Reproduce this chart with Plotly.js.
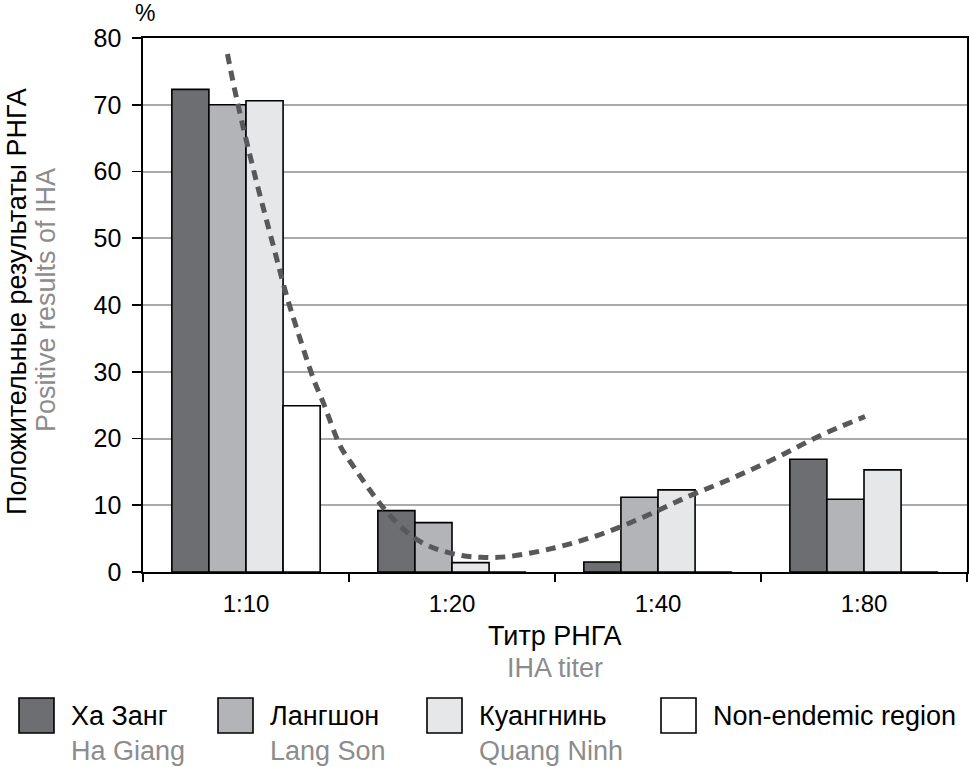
<!DOCTYPE html>
<html>
<head>
<meta charset="utf-8">
<script src="https://cdn.plot.ly/plotly-3.0.1.min.js"></script>
<style>html,body{margin:0;padding:0;background:#fff;}#chart{width:969px;height:767px;}</style>
</head>
<body>
<div id="chart"></div>
<script>
// ---- data ----
const categories = ["1:10", "1:20", "1:40", "1:80"];
const haGiang   = [72.3, 9.2, 1.5, 16.9];
const langSon   = [70.0, 7.4, 11.2, 10.9];
const quangNinh = [70.6, 1.4, 12.3, 15.3];
const nonEndemic = [24.9, 0, 0, 0];
const seriesRu = ["Ха Занг", "Лангшон", "Куангнинь", "Non-endemic region"];
const seriesEn = ["Ha Giang", "Lang Son", "Quang Ninh", ""];
// trend line (x in category units, 0 = 1:10)
const trendX = [-0.090, -0.044, 0.045, 0.134, 0.199, 0.264, 0.329, 0.376, 0.459, 0.522, 0.589, 0.662, 0.751, 0.832, 0.929, 1.043, 1.140, 1.270, 1.495, 1.708, 1.935, 2.146, 2.356, 2.567, 2.778, 3.005];
const trendY = [77.6, 70.7, 59.2, 48.7, 41.2, 34.8, 28.8, 25.3, 18.8, 15.8, 12.8, 9.8, 6.8, 4.8, 3.4, 2.5, 2.2, 2.3, 3.6, 5.5, 8.3, 11.3, 14.0, 17.0, 20.3, 23.3];
const yTicks = [0, 10, 20, 30, 40, 50, 60, 70, 80];

// ---- styling ----
const colors = ["#6d6e71", "#b3b4b7", "#e6e7e9", "#ffffff"];
const W = 969, H = 767, L = 143, R = 2, T = 38, B = 195;
const pw = W - L - R, ph = H - T - B;
const px = x => (x - L) / pw;           // pixel -> paper x
const py = y => (H - B - y) / ph;       // pixel -> paper y
const FONT = "Liberation Sans, Arial, sans-serif";
const GRAY = "#8c8c8c";

const allSeries = [haGiang, langSon, quangNinh, nonEndemic];
const traces = allSeries.map((vals, i) => ({
  type: "bar",
  x: categories,
  y: vals,
  name: seriesRu[i],
  marker: {color: colors[i], line: {color: "#000", width: 1.6}},
  showlegend: false,
  hoverinfo: "x+y+name"
}));
traces.push({
  type: "scatter",
  mode: "lines",
  x: trendX,
  y: trendY,
  xaxis: "x2",
  line: {color: "#58585a", width: 5, dash: "10px,7px", shape: "spline"},
  showlegend: false,
  hoverinfo: "skip"
});

const shapes = [];
const annotations = [];
// legend
const legX = [19, 218, 427, 661];
legX.forEach((x0, i) => {
  shapes.push({type: "rect", xref: "paper", yref: "paper",
    x0: px(x0), x1: px(x0 + 35), y0: py(733), y1: py(698),
    fillcolor: colors[i], line: {color: "#000", width: 1.6}});
  annotations.push({xref: "paper", yref: "paper", x: px(x0 + 50), y: py(716),
    xanchor: "left", yanchor: "middle", showarrow: false, text: seriesRu[i],
    font: {family: FONT, size: 27, color: "#000"}});
  if (seriesEn[i]) annotations.push({xref: "paper", yref: "paper", x: px(x0 + 50), y: py(751),
    xanchor: "left", yanchor: "middle", showarrow: false, text: seriesEn[i],
    font: {family: FONT, size: 27, color: GRAY}});
});
// axis titles
annotations.push({xref: "paper", yref: "paper", x: 0.5, y: py(636), xanchor: "center", yanchor: "middle",
  showarrow: false, text: "Титр РНГА", font: {family: FONT, size: 27, color: "#000"}});
annotations.push({xref: "paper", yref: "paper", x: 0.5, y: py(668), xanchor: "center", yanchor: "middle",
  showarrow: false, text: "IHA titer", font: {family: FONT, size: 27, color: GRAY}});
annotations.push({xref: "paper", yref: "paper", x: px(17), y: py(302), xanchor: "center", yanchor: "middle",
  textangle: -90, showarrow: false, text: "Положительные результаты РНГА", font: {family: FONT, size: 27, color: "#000"}});
annotations.push({xref: "paper", yref: "paper", x: px(46), y: py(300), xanchor: "center", yanchor: "middle",
  textangle: -90, showarrow: false, text: "Positive results of IHA", font: {family: FONT, size: 27, color: GRAY}});
annotations.push({xref: "paper", yref: "paper", x: px(145), y: py(13), xanchor: "center", yanchor: "middle",
  showarrow: false, text: "%", font: {family: FONT, size: 23, color: "#000"}});

const layout = {
  width: W, height: H,
  margin: {l: L, r: R, t: T, b: B, pad: 0},
  paper_bgcolor: "#fff", plot_bgcolor: "#fff",
  barmode: "group", bargap: 0.28, bargroupgap: 0,
  xaxis: {type: "category", categoryarray: categories, range: [-0.5, 3.5],
    showline: true, linecolor: "#000", linewidth: 1.6, mirror: true,
    ticks: "outside", tickson: "boundaries", ticklen: 8, tickcolor: "#000", tickwidth: 1.6,
    ticklabelstandoff: 10,
    showgrid: false, zeroline: false,
    tickfont: {family: FONT, size: 24, color: "#000"}},
  xaxis2: {overlaying: "x", range: [-0.5, 3.5], visible: false, showgrid: false, zeroline: false},
  yaxis: {range: [0, 80], tickvals: yTicks, ticks: "outside", ticklen: 9, tickcolor: "#000", tickwidth: 1.6,
    ticklabelstandoff: 6,
    showline: true, linecolor: "#000", linewidth: 1.6, mirror: true,
    showgrid: true, gridcolor: "#a9aaad", gridwidth: 2, zeroline: false,
    tickfont: {family: FONT, size: 25, color: "#000"}},
  shapes: shapes,
  annotations: annotations,
  font: {family: FONT}
};

Plotly.newPlot("chart", traces, layout, {displayModeBar: false, staticPlot: true});
</script>
</body>
</html>
